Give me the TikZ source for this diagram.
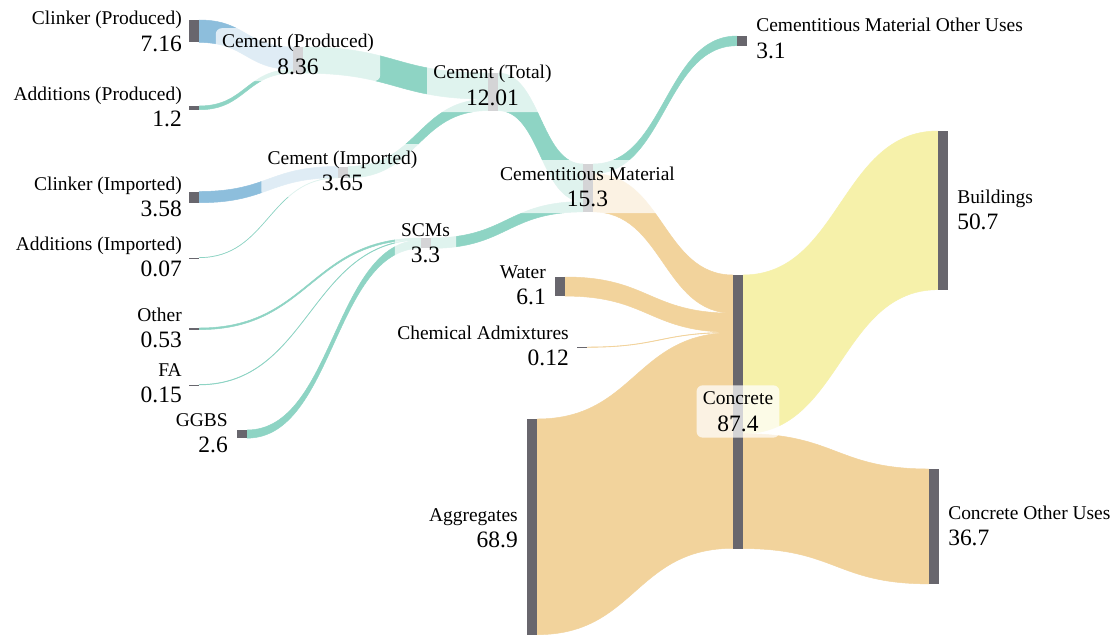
\documentclass[tikz,border=0pt]{standalone}
\usepackage{fontspec}
\setmainfont{Liberation Serif}
\usetikzlibrary{calc,fit}
\pgfdeclarelayer{boxes}
\pgfdeclarelayer{labels}
\pgfsetlayers{main,boxes,labels}

\definecolor{tea}{RGB}{142,212,196}
\definecolor{blu}{RGB}{141,190,220}
\definecolor{tan}{RGB}{242,211,156}
\definecolor{yel}{RGB}{246,241,170}
\definecolor{barc}{RGB}{104,102,109}

% flow thickness per unit of value
\def\fk{2.3475pt}

\tikzset{
  bar/.style={fill=barc, draw=none, inner sep=0pt, outer sep=0pt,
              minimum width=7.5pt, anchor=north west},
  nm/.style={inner sep=0pt, font=\fontsize{14.6}{16}\selectfont},
  vl/.style={inner sep=0pt, font=\fontsize{17.6}{20}\selectfont},
  lblbox/.style={fill=white, fill opacity=0.72, draw=none,
                 rounded corners=4.5pt, inner xsep=4.5pt, inner ysep=4.5pt},
}

% band from source node #1 (offset #2) to target node #3 (offset #4), value #5, colour #6
\newcommand\flow[6]{%
  \fill[#6, draw=#6, line width=0.35pt]
    let \p1=(#1.north east), \p2=(#3.north west) in
    (\x1,{\y1-(#2)*\fk})
      .. controls ({(\x1+\x2)/2},{\y1-(#2)*\fk}) and ({(\x1+\x2)/2},{\y2-(#4)*\fk}) ..
    (\x2,{\y2-(#4)*\fk})
    -- (\x2,{\y2-(#4+#5)*\fk})
      .. controls ({(\x1+\x2)/2},{\y2-(#4+#5)*\fk}) and ({(\x1+\x2)/2},{\y1-(#2+#5)*\fk}) ..
    (\x1,{\y1-(#2+#5)*\fk}) -- cycle;}

% label: id, anchor, x, value baseline y, name, value
\newcommand\lbl[6]{%
  \begin{pgfonlayer}{labels}
    \node[nm, anchor=#2] (#1n) at (#3,#4-26.5) {#5};
    \node[vl, anchor=#2] (#1v) at (#3,#4) {#6};
  \end{pgfonlayer}
  \begin{pgfonlayer}{boxes}
    \node[lblbox, fit=(#1n)(#1v)] (#1b) {};
  \end{pgfonlayer}}

\begin{document}
\begin{tikzpicture}[x=0.75pt,y=-0.75pt]
\useasboundingbox (0,0) rectangle (1117,635);
\fill[white] (0,0) rectangle (1117,635);

% nodes (bars)
\node[bar, minimum height={7.16*\fk}] (clkP) at (189,20) {};
\node[bar, minimum height={1.2*\fk}] (addP) at (189,106) {};
\node[bar, minimum height={3.58*\fk}] (clkI) at (189,191.5) {};
\node[bar, minimum height={0.07*\fk}] (addI) at (189,257.5) {};
\node[bar, minimum height={0.53*\fk}] (other) at (189,328) {};
\node[bar, minimum height={0.15*\fk}] (fa) at (189,384.5) {};
\node[bar, minimum height={2.6*\fk}] (ggbs) at (237,430) {};
\node[bar, minimum height={8.36*\fk}] (cemP) at (293,47) {};
\node[bar, minimum height={3.65*\fk}] (cemI) at (338,166.5) {};
\node[bar, minimum height={12.01*\fk}] (cemT) at (488,73) {};
\node[bar, minimum height={3.3*\fk}] (scms) at (421,238) {};
\node[bar, minimum height={15.3*\fk}] (cmat) at (583,164) {};
\node[bar, minimum height={3.1*\fk}] (cmo) at (737,36) {};
\node[bar, minimum height={6.1*\fk}] (water) at (555,277) {};
\node[bar, minimum height={0.12*\fk}] (chem) at (577,347) {};
\node[bar, minimum height={68.9*\fk}] (agg) at (527,419) {};
\node[bar, minimum height={87.4*\fk}] (conc) at (733,275) {};
\node[bar, minimum height={50.7*\fk}] (bld) at (938,131) {};
\node[bar, minimum height={36.7*\fk}] (cou) at (929,469) {};

% flows
\flow{clkP}{0}{cemP}{0}{7.16}{blu}
\flow{addP}{0}{cemP}{7.16}{1.2}{tea}
\flow{cemP}{0}{cemT}{0}{8.36}{tea}
\flow{clkI}{0}{cemI}{0}{3.58}{blu}
\flow{addI}{0}{cemI}{3.58}{0.07}{tea}
\flow{cemI}{0}{cemT}{8.36}{3.65}{tea}
\flow{cemT}{0}{cmat}{0}{12.01}{tea}
\flow{other}{0}{scms}{0}{0.53}{tea}
\flow{fa}{0}{scms}{0.53}{0.15}{tea}
\flow{ggbs}{0}{scms}{0.68}{2.6}{tea}
\flow{scms}{0}{cmat}{12.01}{3.3}{tea}
\flow{cmat}{0}{cmo}{0}{3.1}{tea}
\flow{cmat}{3.1}{conc}{0}{12.2}{tan}
\flow{water}{0}{conc}{12.2}{6.1}{tan}
\flow{chem}{0}{conc}{18.3}{0.12}{tan}
\flow{agg}{0}{conc}{18.42}{68.9}{tan}
\flow{conc}{0}{bld}{0}{50.7}{yel}
\flow{conc}{50.7}{cou}{0}{36.7}{tan}

% redraw bars above the flows
\foreach \b in {clkP,addP,clkI,addI,other,fa,ggbs,cemP,cemI,cemT,scms,cmat,cmo,water,chem,agg,conc,bld,cou}
  \fill[barc] (\b.north west) rectangle (\b.south east);

% labels
\lbl{clkPl}{base east}{182}{51.5}{Clinker (Produced)}{7.16}
\lbl{addPl}{base east}{182}{126.5}{Additions (Produced)}{1.2}
\lbl{clkIl}{base east}{182}{216.5}{Clinker (Imported)}{3.58}
\lbl{addIl}{base east}{182}{276.5}{Additions (Imported)}{0.07}
\lbl{otherl}{base east}{182}{347.5}{Other}{0.53}
\lbl{fal}{base east}{182}{402.5}{FA}{0.15}
\lbl{ggbsl}{base east}{228}{452.5}{GGBS}{2.6}
\lbl{aggl}{base east}{518}{547.5}{Aggregates}{68.9}
\lbl{waterl}{base east}{546}{304.5}{Water}{6.1}
\lbl{cheml}{base east}{569}{365.5}{Chemical Admixtures}{0.12}
\lbl{cemPl}{base}{298}{74.5}{Cement (Produced)}{8.36}
\lbl{cemIl}{base}{342.5}{190.5}{Cement (Imported)}{3.65}
\lbl{cemTl}{base}{492.5}{105.5}{Cement (Total)}{12.01}
\lbl{scmsl}{base}{425.5}{262.5}{SCMs}{3.3}
\lbl{cmatl}{base}{587.5}{206.5}{Cementitious Material}{15.3}
\lbl{concl}{base}{738}{431}{Concrete}{87.4}
\lbl{cmol}{base west}{756}{58.5}{Cementitious Material Other Uses}{3.1}
\lbl{bldl}{base west}{957}{229.5}{Buildings}{50.7}
\lbl{coul}{base west}{948}{545.5}{Concrete Other Uses}{36.7}
\end{tikzpicture}
\end{document}
